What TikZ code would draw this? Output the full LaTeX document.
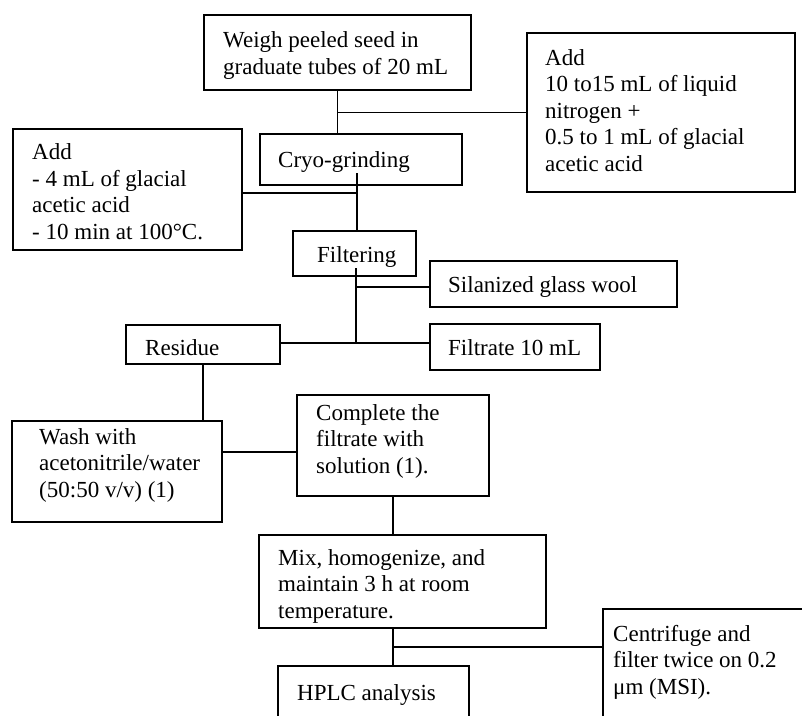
\documentclass[tikz,border=0pt]{standalone}
\usepackage{fontspec}
\setmainfont{Liberation Serif}
\begin{document}
\begin{tikzpicture}[x=1pt,y=-1pt,
  box/.style={draw, line width=1.3pt, rectangle, inner sep=0pt},
  txt/.style={anchor=base west, align=left, inner sep=0pt, font=\fontsize{23}{26.5}\selectfont},
  conn/.style={line width=1.3pt}]
\useasboundingbox (0,0) rectangle (802,715);
\clip (0,0) rectangle (802,715);
% boxes
\node[box, minimum width=267, minimum height=75] (weigh) at (337.5,52.5) {};
\node[box, minimum width=268, minimum height=159] (addR) at (661,112.5) {};
\node[box, minimum width=202, minimum height=51] (cryo) at (361,159.5) {};
\node[box, minimum width=229, minimum height=121] (addL) at (127.5,189.5) {};
\node[box, minimum width=123, minimum height=45] (filt) at (354.5,253.5) {};
\node[box, minimum width=247, minimum height=46] (silan) at (553.5,284) {};
\node[box, minimum width=154, minimum height=39] (resid) at (203,344.5) {};
\node[box, minimum width=170, minimum height=46] (filtr) at (515,347) {};
\node[box, minimum width=210, minimum height=101] (wash) at (117,471.5) {};
\node[box, minimum width=192, minimum height=101] (compl) at (393,445.5) {};
\node[box, minimum width=287, minimum height=93] (mix) at (402.5,581.5) {};
\node[box, minimum width=191, minimum height=74] (hplc) at (373.5,703) {};
\node[box, minimum width=212, minimum height=131] (centr) at (709,674.5) {};
% texts (anchor = baseline of the last line)
\node[txt] (tweigh) at (223,74) {Weigh peeled seed in\\graduate tubes of 20 mL};
\node[txt] (taddR) at (545,171) {Add\\10 to15 mL of liquid\\nitrogen +\\0.5 to 1 mL of glacial\\acetic acid};
\node[txt] (tcryo) at (278,167) {Cryo-grinding};
\node[txt] (taddL) at (32,239) {Add\\- 4 mL of glacial\\acetic acid\\- 10 min at 100°C.};
\node[txt] (tfilt) at (317,262) {Filtering};
\node[txt] (tsilan) at (448,292) {Silanized glass wool};
\node[txt] (tresid) at (145,355) {Residue};
\node[txt] (tfiltr) at (448,355) {Filtrate 10 mL};
\node[txt] (twash) at (39,497) {Wash with\\acetonitrile/water\\(50:50 v/v) (1)};
\node[txt] (tcompl) at (316,473) {Complete the\\filtrate with\\solution (1).};
\node[txt] (tmix) at (278,618) {Mix, homogenize, and\\maintain 3 h at room\\temperature.};
\node[txt] (thplc) at (297,700) {HPLC analysis};
\node[txt] (tcentr) at (613,694) {Centrifuge and\\filter twice on 0.2\\μm (MSI).};
% junction points
\coordinate (c1) at (357,173);
\coordinate (j1) at (357,193);
\coordinate (c2) at (356,268);
\coordinate (j3) at (356,287);
\coordinate (j2) at (356,343);
\coordinate (j4) at (222,452);
\coordinate (j5) at (393,647);
% connectors
\draw[conn] (weigh.south) -- (weigh.south |- cryo.north);
\draw[conn] (weigh.south |- addR.west) -- (addR.west);
\draw[conn] (c1) -- (c1 |- filt.north);
\draw[conn] (j1 -| addL.east) -- (j1);
\draw[conn] (c2) -- (j2);
\draw[conn] (j3) -- (j3 -| silan.west);
\draw[conn] (j2 -| resid.east) -- (j2 -| filtr.west);
\draw[conn] (resid.south) -- (resid.south |- wash.north);
\draw[conn] (j4) -- (j4 -| compl.west);
\draw[conn] (compl.south) -- (compl.south |- mix.north);
\draw[conn] (compl.south |- mix.south) -- (compl.south |- hplc.north);
\draw[conn] (j5) -- (j5 -| centr.west);
\end{tikzpicture}
\end{document}
